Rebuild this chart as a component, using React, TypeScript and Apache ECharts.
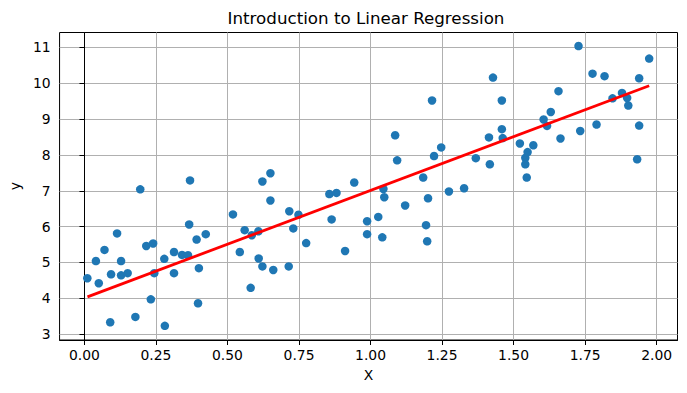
import React, { useEffect, useRef } from "react";
import * as echarts from "echarts";

const titleText = "Introduction to Linear Regression";
const xTicks = [0, 0.25, 0.5, 0.75, 1.0, 1.25, 1.5, 1.75, 2.0];
const yTicks = [3, 4, 5, 6, 7, 8, 9, 10, 11];

const xs = [
  0.01, 0.05, 0.04, 0.07, 0.09, 0.093, 0.114, 0.128, 0.128, 0.151,
  0.178, 0.195, 0.216, 0.24, 0.232, 0.244, 0.281, 0.279, 0.313, 0.313,
  0.341, 0.362, 0.369, 0.366, 0.392, 0.424, 0.4, 0.397, 0.519, 0.543,
  0.56, 0.585, 0.581, 0.608, 0.609, 0.622, 0.622, 0.65, 0.65, 0.66,
  0.714, 0.716, 0.73, 0.748, 0.775, 0.856, 0.881, 0.864, 0.911, 0.943,
  0.988, 0.988, 1.027, 1.041, 1.045, 1.048, 1.086, 1.093, 1.121, 1.184,
  1.194, 1.198, 1.201, 1.215, 1.222, 1.247, 1.274, 1.327, 1.368, 1.417,
  1.414, 1.428, 1.459, 1.459, 1.462, 1.522, 1.541, 1.549, 1.541, 1.546,
  1.569, 1.605, 1.617, 1.63, 1.657, 1.664, 1.727, 1.733, 1.776, 1.79,
  1.818, 1.846, 1.879, 1.897, 1.901, 1.939, 1.939, 1.932, 1.974,
];
const ys = [
  4.56, 4.42, 5.04, 5.35, 3.33, 4.67, 5.81, 5.04, 4.64, 4.7,
  3.48, 7.04, 5.46, 5.53, 3.97, 4.7, 3.23, 5.1, 5.29, 4.7,
  5.21, 5.2, 7.29, 6.06, 5.64, 5.79, 4.84, 3.86, 6.34, 5.29,
  5.9, 5.76, 4.29, 5.87, 5.11, 4.89, 7.26, 7.49, 6.73, 4.79,
  4.89, 6.43, 5.95, 6.33, 5.54, 6.91, 6.94, 6.2, 5.32, 7.23,
  6.15, 5.79, 6.27, 5.7, 7.05, 6.82, 8.55, 7.85, 6.59, 7.37,
  6.04, 5.59, 6.79, 9.52, 7.97, 8.21, 6.98, 7.07, 7.91, 7.74,
  8.49, 10.16, 9.52, 8.72, 8.47, 8.32, 7.92, 8.08, 7.74, 7.37,
  8.27, 8.99, 8.81, 9.2, 9.78, 8.46, 11.04, 8.67, 10.27, 8.85,
  10.2, 9.58, 9.73, 9.59, 9.38, 10.14, 8.82, 7.88, 10.69,
];
const lineX = [0.0105, 1.974];
const lineY = [4.04, 9.93];

const FONT = "DejaVu Sans";

export default function App() {
  const ref = useRef<HTMLDivElement>(null);
  useEffect(() => {
    if (!ref.current) return;
    const chart = echarts.init(ref.current, null, { renderer: "svg" });
    const points = xs.map((x, i) => [x, ys[i]]);
    const line = lineX.map((x, i) => [x, lineY[i]]);
    chart.setOption({
      animation: false,
      backgroundColor: "#ffffff",
      graphic: [
        {
          type: "text",
          x: 366,
          y: 18,
          style: {
            text: titleText,
            align: "center",
            verticalAlign: "middle",
            fontFamily: FONT,
            fontSize: 16.7,
            fill: "#000",
          },
        },
      ],
      grid: {
        left: 57.5,
        top: 32.5,
        right: 9.5,
        bottom: 53,
        show: true,
        borderColor: "#000",
        borderWidth: 1,
        backgroundColor: "transparent",
      },
      xAxis: {
        type: "value",
        min: -0.087,
        max: 2.073,
        name: "X",
        nameLocation: "middle",
        nameGap: 28,
        nameTextStyle: { fontFamily: FONT, fontSize: 13.9, color: "#000" },
        axisLine: { show: true, lineStyle: { color: "#000", width: 1 } },
        axisTick: { show: true, length: 5, lineStyle: { color: "#000" }, customValues: xTicks },
        axisLabel: {
          fontFamily: FONT,
          fontSize: 13.9,
          color: "#000",
          margin: 8,
          customValues: xTicks,
          formatter: (v: number) => v.toFixed(2),
        },
        splitLine: { show: true, lineStyle: { color: "#b0b0b0", width: 1 } },
      },
      yAxis: {
        type: "value",
        min: 2.835,
        max: 11.418,
        name: "y",
        nameLocation: "middle",
        nameGap: 36,
        nameTextStyle: { fontFamily: FONT, fontSize: 13.9, color: "#000" },
        axisLine: { show: true, lineStyle: { color: "#000", width: 1 } },
        axisTick: { show: true, length: 5, lineStyle: { color: "#000" }, customValues: yTicks },
        axisLabel: {
          fontFamily: FONT,
          fontSize: 13.9,
          color: "#000",
          margin: 9,
          customValues: yTicks,
        },
        splitLine: { show: true, lineStyle: { color: "#b0b0b0", width: 1 } },
      },
      series: [
        {
          type: "scatter",
          data: points,
          symbolSize: 8.5,
          itemStyle: { color: "#1f77b4", opacity: 1 },
          z: 2,
        },
        {
          type: "line",
          data: line,
          symbol: "none",
          lineStyle: { color: "#ff0000", width: 2.8 },
          z: 3,
        },
      ],
    });
    return () => chart.dispose();
  }, []);
  return (
    <div
      ref={ref}
      style={{ position: "fixed", left: 0, top: 0, width: 687, height: 393 }}
    />
  );
}
